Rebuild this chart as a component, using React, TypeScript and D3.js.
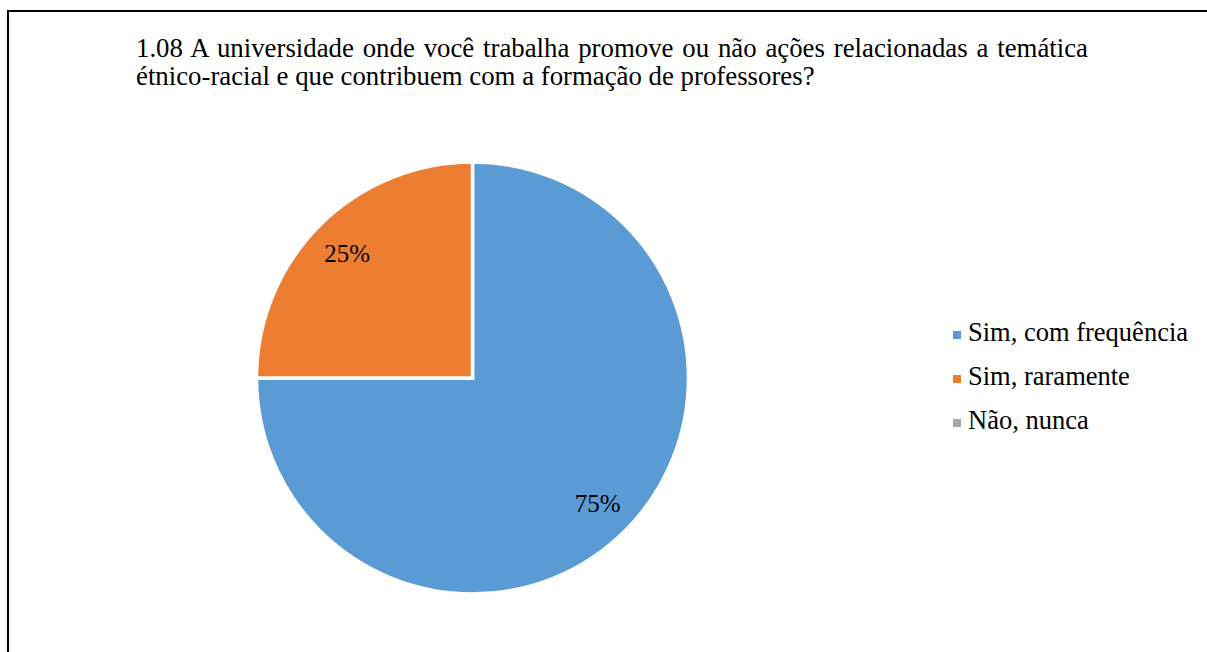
import React, { useLayoutEffect, useRef, useState } from "react";
import * as d3 from "d3";

const titleLines = [
  "1.08 A universidade onde você trabalha promove ou não ações relacionadas a temática",
  "étnico-racial e que contribuem com a formação de professores?",
];
const categories = ["Sim, com frequência", "Sim, raramente", "Não, nunca"];
const values = [75, 25, 0];
const colors = ["#5B9BD5", "#ED7D31", "#A5A5A5"];

const FONT = '"Times New Roman", "Liberation Serif", Times, serif';
const W = 1207, H = 652;

export default function App() {
  const t1Ref = useRef<SVGTextElement>(null);
  const [ws, setWs] = useState(0);
  useLayoutEffect(() => {
    const node = t1Ref.current;
    if (!node) return;
    const len = node.getComputedTextLength();
    const spaces = titleLines[0].split(" ").length - 1;
    setWs(Math.max(0, (1088 - 136 - len) / spaces));
  }, []);

  const cx = 472.5, cy = 378, r = 216;
  const pie = d3.pie<number>().sort(null).value((d) => d);
  const arcs = pie(values).filter((a) => a.data > 0);
  const arc = d3.arc<d3.PieArcDatum<number>>().innerRadius(0).outerRadius(r);
  const labelArc = d3.arc<d3.PieArcDatum<number>>().innerRadius(r * 0.82).outerRadius(r * 0.82);

  return (
    <svg width={W} height={H} style={{ position: "absolute", left: 0, top: 0, display: "block", fontFamily: FONT }}>
      <rect x={8} y={11} width={W + 20} height={H + 20} fill="#fff" stroke="#000" strokeWidth={2} />
      <text ref={t1Ref} x={136} y={57} wordSpacing={ws} fontFamily={FONT} fontSize={26.8} fill="#000">
        {titleLines[0]}
      </text>
      <text x={136} y={85} fontFamily={FONT} fontSize={26.8} fill="#000">
        {titleLines[1]}
      </text>
      <g transform={`translate(${cx},${cy})`}>
        {arcs.map((a) => (
          <path key={a.index} d={arc(a) || ""} fill={colors[a.index]} stroke="#fff" strokeWidth={3.5} />
        ))}
        {arcs.map((a) => {
          const [x, y] = labelArc.centroid(a);
          return (
            <text key={"l" + a.index} x={x} y={y} dy="0.35em" textAnchor="middle"
              fontFamily={FONT} fontSize={25} fill="#000">
              {`${a.data}%`}
            </text>
          );
        })}
      </g>
      {categories.map((c, i) => {
        const y = 341 + i * 44;
        return (
          <g key={c}>
            <rect x={953} y={y - 10} width={8} height={8} fill={colors[i]} />
            <text x={968} y={y} fontFamily={FONT} fontSize={26.5} fill="#000">{c}</text>
          </g>
        );
      })}
    </svg>
  );
}
